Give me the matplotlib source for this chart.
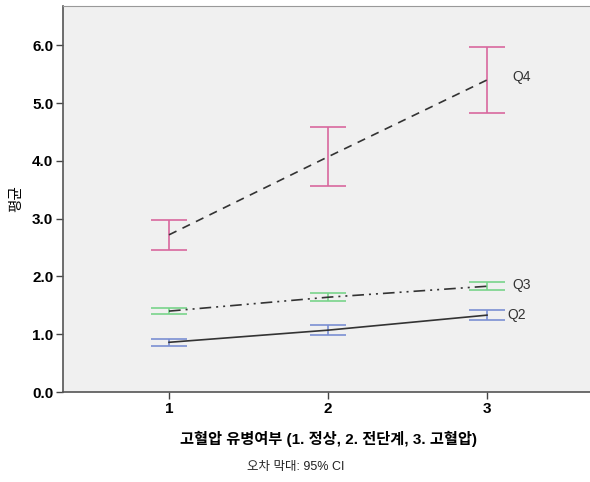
import matplotlib.pyplot as plt
import numpy as np

plt.rcParams['font.family'] = ['Liberation Sans', 'Noto Sans CJK KR', 'DejaVu Sans']

groups = [1, 2, 3]
series = ["Q2", "Q3", "Q4"]
means = {
    "Q2": [0.86, 1.07, 1.33],
    "Q3": [1.40, 1.64, 1.83],
    "Q4": [2.72, 4.07, 5.40],
}
ci_low = {
    "Q2": [0.80, 0.99, 1.25],
    "Q3": [1.35, 1.57, 1.76],
    "Q4": [2.46, 3.56, 4.83],
}
ci_high = {
    "Q2": [0.92, 1.16, 1.42],
    "Q3": [1.45, 1.71, 1.90],
    "Q4": [2.98, 4.59, 5.97],
}
bar_colors = {"Q2": "#7b8fd2", "Q3": "#78d48a", "Q4": "#d8689e"}
line_styles = {"Q2": "-", "Q3": (0, (7, 3, 1.2, 3, 1.2, 3)), "Q4": (0, (5, 4))}
label_offsets = {"Q2": (0.13, 0.0), "Q3": (0.16, 0.03), "Q4": (0.16, 0.05)}

fig = plt.figure(figsize=(5.9, 4.82), dpi=100)
ax = fig.add_axes([63 / 590, 1 - 392 / 482, 530 / 590, 386 / 482])
ax.set_facecolor("#f0f0f0")

x = np.array(groups)
for s in series:
    m = np.array(means[s])
    lo = np.array(ci_low[s])
    hi = np.array(ci_high[s])
    ax.plot(x, m, color="#333333", lw=1.2, linestyle=line_styles[s], zorder=3)
    ax.errorbar(x, m, yerr=[m - lo, hi - m], fmt="none", ecolor=bar_colors[s],
                elinewidth=1.2, capsize=13, capthick=1.2, zorder=2)
    dx, dy = label_offsets[s]
    ax.text(x[-1] + dx, m[-1] + dy, s, fontsize=10, color="#333333",
            va="center", ha="left")

ax.set_xlim(1 / 3, 11 / 3)
ax.set_ylim(0, 6.68)
ax.set_xticks(groups)
ax.set_yticks(np.arange(0, 7, 1.0))
ax.set_yticklabels([f"{v:.1f}" for v in np.arange(0, 7, 1.0)])
for lbl in ax.get_xticklabels() + ax.get_yticklabels():
    lbl.set_fontweight("bold")
    lbl.set_fontsize(11)
ax.tick_params(direction="out", length=5, width=1, color="#444444", pad=2)

for side in ["left", "bottom"]:
    ax.spines[side].set_color("#555555")
    ax.spines[side].set_linewidth(1.2)
ax.spines["top"].set_color("#999999")
ax.spines["right"].set_visible(False)

ax.set_ylabel("평균", fontsize=10.5, labelpad=6)
ax.set_xlabel("고혈압 유병여부 (1. 정상, 2. 전단계, 3. 고혈압)", fontsize=11,
              fontweight="bold", labelpad=11)
fig.text(296 / 590, 1 - 467 / 482, "오차 막대: 95% CI", fontsize=9,
         ha="center", va="center", color="#222222")

fig.savefig("out.png", dpi=100)
